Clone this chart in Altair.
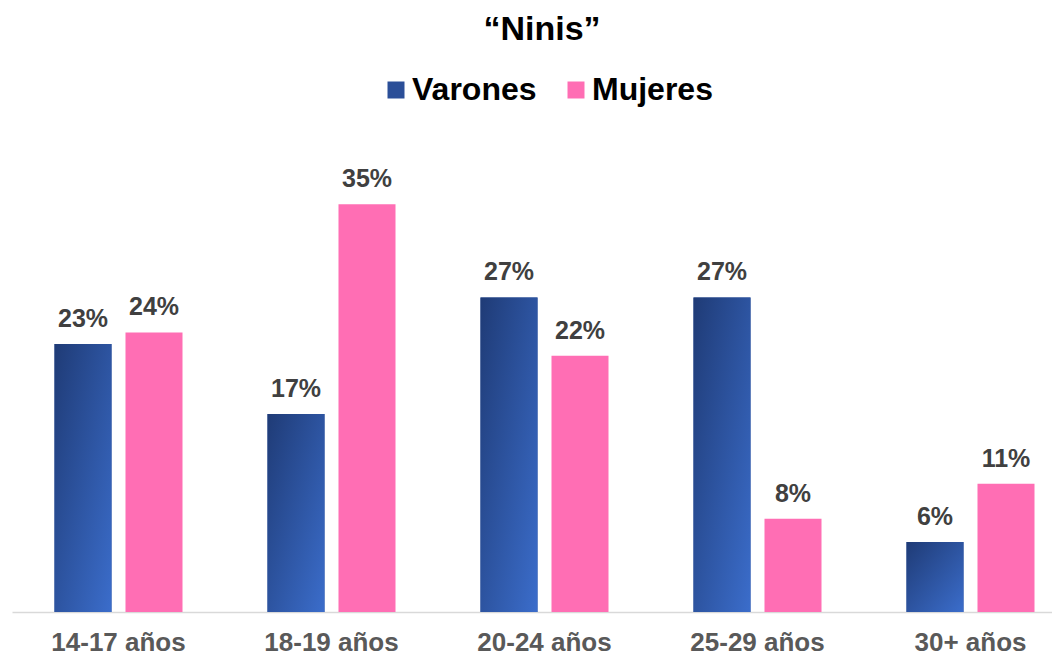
import altair as alt
import pandas as pd

categorias = ["14-17 años", "18-19 años", "20-24 años", "25-29 años", "30+ años"]
varones = [23, 17, 27, 27, 6]
mujeres = [24, 35, 22, 8, 11]
series = ["Varones", "Mujeres"]

rows = []
for c, v, m in zip(categorias, varones, mujeres):
    rows.append({"grupo": c, "sexo": "Varones", "valor": v})
    rows.append({"grupo": c, "sexo": "Mujeres", "valor": m})
df = pd.DataFrame(rows)
df["etiqueta"] = df["valor"].astype(str) + "%"

FONT = "Liberation Sans"
AZUL = "#2B4F98"
ROSA = "#FF6EB4"

grad = alt.LinearGradient(
    gradient="linear",
    stops=[alt.GradientStop(color="#1F3B76", offset=0),
           alt.GradientStop(color="#3B6DCB", offset=1)],
    x1=0, y1=0, x2=1, y2=1,
)

base = alt.Chart(df).encode(
    x=alt.X("grupo:N", sort=categorias,
            scale=alt.Scale(range=[0, 1065], paddingInner=0, paddingOuter=0),
            axis=alt.Axis(title=None, labelAngle=0, ticks=False, domainColor="#D9D9D9",
                          domainWidth=1.5, labelFontSize=26, labelFontWeight="bold",
                          labelColor="#595959", labelFont=FONT, labelPadding=38,
                          labelBaseline="alphabetic", grid=False)),
    xOffset=alt.XOffset("sexo:N", sort=series,
                        scale=alt.Scale(paddingInner=0.197, paddingOuter=0.5986)),
    y=alt.Y("valor:Q", scale=alt.Scale(domain=[0, 40]), axis=None),
)

bars = base.mark_bar().encode(
    color=alt.Color("sexo:N", sort=series,
                    scale=alt.Scale(domain=series, range=[AZUL, ROSA]),
                    legend=alt.Legend(title=None, orient="none", legendX=368, legendY=-72,
                                      direction="horizontal", symbolType="square",
                                      symbolSize=289, symbolStrokeWidth=0,
                                      labelFontSize=32, labelFontWeight="bold",
                                      labelColor="black", labelFont=FONT,
                                      labelOffset=0, columnPadding=23))
)

bars_grad = base.transform_filter(alt.datum.sexo == "Varones").mark_bar(color=grad)

labels = base.mark_text(dy=-17, baseline="alphabetic", fontSize=25, fontWeight="bold",
                        color="#404040", font=FONT).encode(text="etiqueta:N")

chart = alt.layer(bars, bars_grad, labels).properties(
    width=1040, height=466,
    autosize=alt.AutoSizeParams(type="none"),
    padding={"left": 4, "right": 0, "top": 138, "bottom": 45},
    title=alt.TitleParams("“Ninis”", fontSize=34, fontWeight="bold", font=FONT,
                          color="black", anchor="middle", dx=10, offset=27),
).configure_view(stroke=None)

chart.save("out.html", embed_options={"renderer": "svg", "actions": False})
